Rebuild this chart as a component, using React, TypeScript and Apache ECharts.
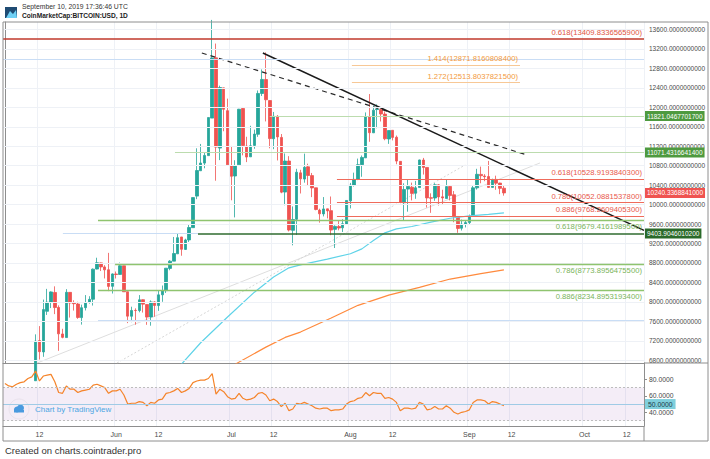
import React, { useEffect, useRef } from "react";
import * as echarts from "echarts";

// ---------- categories ----------
const FIRST_DAY = Date.UTC(2019, 4, 3); // May 3 2019
const DAY_COUNT = 167; // through Oct 16 2019
const MONTHS = ["Jan", "Feb", "Mar", "Apr", "May", "Jun", "Jul", "Aug", "Sep", "Oct", "Nov", "Dec"];
const dates: string[] = [];
for (let i = 0; i < DAY_COUNT; i++) {
  dates.push(new Date(FIRST_DAY + i * 86400000).toISOString().slice(0, 10));
}

// ---------- candles (May 10 .. Sep 10) ----------
const CANDLE_START = 7; // index of May 10
const opens = [
  6187, 6379, 7204, 6971, 7807, 7989, 8194, 7886, 7341, 7267, 8196, 7977, 7957, 7677, 7882, 7991, 8055, 8675, 8802, 8719, 8661, 8320,
  8573, 8565, 8742, 8210, 7705, 7826, 7822, 8045, 7946, 7692, 8000, 7925, 8146, 8232, 8689, 8838, 8988, 9335, 9079, 9274, 9526, 10175, 10696, 10853, 11007, 11778, 13017, 11162, 12400, 11931,
  10796, 10588, 10818, 11976, 11203, 10982, 11217, 11446, 12284, 12571, 12139, 11354, 11814, 11381, 10258, 10896, 9471, 9698, 10653, 10525, 10777, 10596, 10346, 9887, 9809, 9913, 9876, 9491, 9548, 9523, 9604,
  10077, 10403, 10519, 10822, 10961, 11811, 11476, 11954, 11953, 11861, 11349, 11528, 11385, 10889, 10038, 10319, 10358, 10233, 10350, 10917, 10764, 10142, 10136, 10407, 10160, 10126, 10372, 10203, 9756, 9515, 9597,
  9630, 9758, 10345, 10621, 10588, 10577, 10354, 10518, 10443, 10337,
];
const highs = [
  6434, 7333, 7503, 8047, 8268, 8216, 8320, 7929, 7447, 8262, 8196, 8033, 8003, 7943, 8140, 8117, 8687, 8908, 8807, 8755, 9008, 8586,
  8625, 8809, 8743, 8210, 7901, 7868, 8140, 8052, 7951, 8031, 8014, 8244, 8337, 8694, 8858, 9335, 9416, 9336, 9299, 9594, 10145, 11158, 11247, 11066, 11790, 13797, 13311, 12446, 12400, 12179,
  11206, 10912, 11968, 12007, 11395, 11620, 11541, 12346, 12779, 13129, 12144, 11905, 11841, 11451, 11052, 10996, 9963, 10736, 10716, 11048, 10841, 10651, 10346, 9916, 10155, 9916, 10167, 9575, 9681, 9701, 10085,
  10446, 10657, 10946, 11010, 11895, 12273, 12035, 12061, 11970, 11915, 11523, 11528, 11420, 10889, 10437, 10524, 10452, 10487, 10925, 10960, 10764, 10232, 10441, 10418, 10305, 10512, 10382, 10279, 9756, 9692, 9673,
  9796, 10396, 10736, 10781, 10627, 10898, 10532, 10595, 10450, 10385,
];
const lows = [
  6178, 6375, 6815, 6871, 7732, 7873, 7749, 6994, 7252, 7267, 7678, 7822, 7652, 7533, 7824, 7965, 7925, 8668, 8634, 8482, 8221, 8172,
  8481, 8561, 8204, 7564, 7583, 7531, 7786, 7781, 7529, 7511, 7695, 7816, 8002, 8184, 8651, 8838, 8988, 8949, 9070, 9232, 9526, 10112, 10696, 10747, 11007, 11778, 10491, 10915, 11508, 10799,
  10089, 9737, 10818, 11013, 10874, 10982, 11148, 11393, 12233, 11710, 11158, 11140, 10908, 10234, 9987, 9448, 9163, 9376, 10229, 10451, 10383, 10154, 9883, 9629, 9757, 9717, 9372, 9108, 9472, 9437, 9599,
  9922, 10372, 10504, 10572, 10960, 11291, 11476, 11570, 11709, 11323, 11248, 11320, 10830, 10029, 9675, 9855, 10086, 10119, 10350, 10618, 9940, 9831, 10078, 9982, 10008, 10126, 10087, 9638, 9421, 9468, 9531,
  9582, 9745, 10309, 10439, 10481, 10415, 10353, 10304, 10215, 10184,
];
const closes = [
  6371, 7194, 6977, 7842, 7994, 8205, 7884, 7343, 7271, 8197, 7978, 7963, 7680, 7881, 7987, 8052, 8673, 8805, 8719, 8659, 8319, 8575,
  8564, 8742, 8208, 7707, 7824, 7822, 8043, 7954, 7688, 8000, 7927, 8145, 8230, 8693, 8838, 8995, 9320, 9082, 9274, 9529, 10144, 10701, 10855, 11011, 11790, 13016, 11182, 12407, 11959, 10817,
  10583, 10801, 11961, 11215, 10978, 11209, 11450, 12285, 12573, 12156, 11358, 11815, 11392, 10256, 10895, 9477, 9694, 10666, 10530, 10767, 10599, 10343, 9900, 9811, 9911, 9871, 9477, 9552, 9519, 9607, 10085,
  10399, 10519, 10821, 10970, 11805, 11478, 11941, 11966, 11862, 11354, 11523, 11382, 10895, 10052, 10311, 10374, 10231, 10345, 10918, 10764, 10138, 10131, 10407, 10159, 10138, 10370, 10185, 9754, 9510, 9598, 9630,
  9757, 10346, 10623, 10594, 10575, 10353, 10517, 10441, 10334, 10240.3368841,
];

// ---------- RSI (May 3 .. Sep 10) ----------
const rsiValues = [
  75, 72, 71, 74, 76, 77, 81, 83, 90, 78,
  84, 85, 86, 77, 64, 63, 72, 68, 68, 64,
  66, 67, 68, 73, 74, 72, 70, 63, 66, 66,
  68, 61, 50, 51, 51, 53, 52, 48, 52, 51,
  55, 56, 63, 64, 66, 69, 64, 66, 69, 76,
  78, 79, 79, 81, 87, 62, 68, 65, 59, 56,
  57, 63, 57, 55, 56, 58, 63, 64, 61, 54,
  56, 53, 47, 51, 42, 44, 51, 50, 52, 50,
  48, 45, 44, 45, 45, 42, 43, 43, 44, 50,
  53, 54, 57, 58, 64, 60, 64, 63, 63, 57,
  58, 56, 52, 42, 45, 45, 44, 45, 52, 50,
  43, 44, 47, 44, 44, 48, 45, 40, 38, 40,
  41, 43, 52, 55, 55, 54, 50, 53, 52, 50,
  48,
];

// ---------- moving averages [dayIndex, value] ----------
const maFastPoints = [
  [46, 6720], [51, 7160], [58, 7690], [65, 8200], [70, 8510], [74, 8700], [77, 8760], [84, 8880], [90, 8990],
  [93, 9090], [96, 9260], [99, 9420], [102, 9500], [106, 9550], [111, 9640], [116, 9720], [121, 9770], [126, 9800], [130, 9830],
];
const maSlowPoints = [
  [60, 6720], [68, 7070], [73, 7270], [77, 7380], [85, 7670], [92, 7930], [100, 8140], [108, 8300], [116, 8470], [124, 8580], [130, 8660],
];

// ---------- trend lines [dayIndex, value] ----------
const trendSolid = [[67.2, 13117], [166.5, 9470]];
const trendDashed = [[51.3, 13117], [136, 11020]];
const faintSolid = [[8.4, 6744], [139.4, 10856]];
const faintDotted = [[29.2, 6744], [119.9, 10815]];

// ---------- horizontal levels ----------
const topFibValue = 13409.83365659;
const topFibLabel = "0.618(13409.8336565900)";
const extFibValues = [12871.8160808400, 12513.8037821500];
const extFibLabels = ["1.414(12871.8160808400)", "1.272(12513.8037821500)"];
const extFibRange = [90.4, 134.2];
const redFibValues = [10528.9193840300, 10052.0881537800, 9768.2609405300];
const redFibLabels = ["0.618(10528.9193840300)", "0.786(10052.0881537800)", "0.886(9768.2609405300)"];
const redFibStart = 86.5;
const greenFibValues = [9679.4161989500, 8773.8956475500, 8234.8953193400];
const greenFibLabels = ["0.618(9679.4161989500)", "0.786(8773.8956475500)", "0.886(8234.8953193400)"];
const greenFibStarts = [24.25, 28.7, 24.25];
const resistanceValues = [11821.0467701700, 11071.4316641400];
const resistanceLabels = ["11821.0467701700", "11071.4316641400"];
const resistanceStarts = [69, 44.3];
const supportValue = 9403.9046010200;
const supportLabel = "9403.9046010200";
const supportStart = 50.3;
const lastPriceLabel = "10240.3368841000";
const lightLevelValues = [12987, 9420, 7630];
const lightLevelStarts = [-0.5, 15.1, 24.25];
const lightLevelEnds = [166.5, 50.3, 166.5];

// ---------- ticks ----------
const priceTicks = [6800, 7200, 7600, 8000, 8400, 8800, 9200, 9600, 10000, 10400, 10800, 11200, 11600, 12000, 12400, 12800, 13200, 13600];
const rsiTicks = [40, 60, 80];

const FONT = "'Liberation Sans', Arial, sans-serif";
const X_BEGIN = -0.5;
const X_END = DAY_COUNT - 0.5;
const GRID_COLOR = "#eef1f6";

const isLabelDay = (i: number) => {
  const d = dates[i].slice(8, 10);
  return d === "01" || d === "12";
};
const dateLabel = (v: string) => {
  const day = +v.slice(8, 10);
  if (day === 1) return MONTHS[+v.slice(5, 7) - 1];
  if (day === 12) return "12";
  return "";
};

function seg(x0: number, x1: number, v: number, lineStyle: any, label?: any) {
  return [
    { coord: [x0, v], lineStyle, label: label || { show: false } },
    { coord: [x1, v] },
  ];
}

function buildOption() {
  const candleData = opens.map((o, k) => [CANDLE_START + k, o, closes[k], lows[k], highs[k]]);

  const textLabel = (text: string, color: string, pos: string) => ({
    show: true,
    position: pos,
    formatter: text,
    color,
    fontSize: 7.7,
    fontFamily: FONT,
    distance: 2,
  });
  const boxLabel = (text: string, bg: string, fg: string) => ({
    show: true,
    position: "end",
    formatter: text,
    color: fg,
    backgroundColor: bg,
    padding: [2, 2, 1, 2],
    fontSize: 6.5,
    fontFamily: FONT,
    distance: 1,
  });

  const levelData: any[] = [];
  lightLevelValues.forEach((v, k) =>
    levelData.push(seg(lightLevelStarts[k], lightLevelEnds[k], v, { color: "#c9ddf5", width: 1.2, type: "solid" }))
  );
  levelData.push(
    seg(X_BEGIN, X_END, topFibValue, { color: "#c0392b", width: 1.5, type: "solid" }, textLabel(topFibLabel, "#e0533e", "insideEndTop"))
  );
  extFibValues.forEach((v, k) =>
    levelData.push(
      seg(extFibRange[0], extFibRange[1], v, { color: "#f7c896", width: 1, type: "solid" }, textLabel(extFibLabels[k], "#f39a3d", "insideEndTop"))
    )
  );
  resistanceValues.forEach((v, k) =>
    levelData.push(
      seg(resistanceStarts[k], X_END, v, { color: "#bcdcae", width: 1, type: "solid" }, boxLabel(resistanceLabels[k], "#4e9a3f", "#ffffff"))
    )
  );
  redFibValues.forEach((v, k) =>
    levelData.push(
      seg(redFibStart, X_END, v, { color: "#ef6b5b", width: 1.2, type: "solid" }, textLabel(redFibLabels[k], "#e8584a", "insideEndTop"))
    )
  );
  greenFibValues.forEach((v, k) =>
    levelData.push(
      seg(greenFibStarts[k], X_END, v, { color: "#8fc46f", width: 1.3, type: "solid" }, textLabel(greenFibLabels[k], "#7ab45a", "insideEndBottom"))
    )
  );
  levelData.push(
    seg(supportStart, X_END, supportValue, { color: "#2f6b2f", width: 1.6, type: "solid" }, boxLabel(supportLabel, "#2a6a2a", "#ffffff"))
  );
  levelData.push(
    seg(X_END - 1, X_END, closes[closes.length - 1], { color: "rgba(0,0,0,0)", width: 0 }, boxLabel(lastPriceLabel, "#ef5350", "#ffffff"))
  );

  const plainLine = (data: any, color: string, width: number, type: any = "solid", z = 3) => ({
    type: "line",
    xAxisIndex: 2,
    yAxisIndex: 0,
    data,
    symbol: "none",
    silent: true,
    z,
    lineStyle: { color, width, type },
  });

  return {
    animation: false,
    backgroundColor: "#ffffff",
    textStyle: { fontFamily: FONT },
    grid: [
      { left: 3, right: 66, top: 22, bottom: 96 },
      { left: 3, right: 66, top: 363, bottom: 33 },
    ],
    xAxis: [
      {
        type: "category",
        gridIndex: 0,
        data: dates,
        boundaryGap: true,
        axisLine: { show: true, lineStyle: { color: "#8e8e8e", width: 1 } },
        axisTick: { show: false },
        axisLabel: { show: false },
        splitLine: { show: true, interval: (i: number) => isLabelDay(i), lineStyle: { color: GRID_COLOR, width: 1 } },
      },
      {
        type: "category",
        gridIndex: 1,
        data: dates,
        boundaryGap: true,
        axisLine: { show: true, lineStyle: { color: "#8e8e8e", width: 1 } },
        axisTick: { show: false },
        axisLabel: {
          show: true,
          interval: (i: number) => isLabelDay(i),
          formatter: dateLabel,
          color: "#4a4a4a",
          fontSize: 7,
          margin: 5,
        },
        splitLine: { show: true, interval: (i: number) => isLabelDay(i), lineStyle: { color: GRID_COLOR, width: 1 } },
      },
      { type: "value", gridIndex: 0, min: X_BEGIN, max: X_END, show: false },
    ],
    yAxis: [
      {
        type: "value",
        gridIndex: 0,
        position: "right",
        min: 6744,
        max: 13754,
        axisLine: { show: true, lineStyle: { color: "#8e8e8e", width: 1 } },
        axisTick: { show: true, length: 3, customValues: priceTicks, lineStyle: { color: "#8e8e8e" } },
        axisLabel: {
          show: true,
          customValues: priceTicks,
          formatter: (v: number) => v.toFixed(10),
          color: "#4a4a4a",
          fontSize: 6.5,
          margin: 5,
        },
        splitLine: { show: false },
      },
      {
        type: "value",
        gridIndex: 1,
        position: "right",
        min: 23.4,
        max: 99.8,
        axisLine: { show: true, lineStyle: { color: "#8e8e8e", width: 1 } },
        axisTick: { show: true, length: 3, customValues: rsiTicks, lineStyle: { color: "#8e8e8e" } },
        axisLabel: {
          show: true,
          customValues: rsiTicks,
          formatter: (v: number) => v.toFixed(4),
          color: "#4a4a4a",
          fontSize: 6.8,
          margin: 5,
        },
        splitLine: { show: false },
      },
    ],
    graphic: [
      {
        type: "rect",
        shape: { x: 3, y: 22, width: 705, height: 419 },
        style: { fill: "none", stroke: "#8e8e8e", lineWidth: 1 },
        silent: true,
        z: 100,
      },
      { type: "line", shape: { x1: 644, y1: 426, x2: 644, y2: 441 }, style: { stroke: "#8e8e8e", lineWidth: 1 }, z: 100 },
      { type: "line", shape: { x1: 644, y1: 363, x2: 708, y2: 363 }, style: { stroke: "#8e8e8e", lineWidth: 1 }, z: 100 },
      {
        type: "group",
        x: 5,
        y: 7,
        children: [
          { type: "rect", shape: { x: 0, y: 0, width: 12, height: 11 }, style: { fill: "#1f4b73" } },
          { type: "polygon", shape: { points: [[1, 11], [5, 4], [8, 7], [11, 3], [12, 11]] }, style: { fill: "#6fd0f5" } },
        ],
      },
      {
        type: "text",
        x: 22,
        y: 3,
        style: { text: "September 10, 2019 17:36:46 UTC", fill: "#333333", fontSize: 6.8, fontFamily: FONT },
      },
      {
        type: "text",
        x: 22,
        y: 12,
        style: { text: "CoinMarketCap:BITCOIN:USD, 1D", fill: "#222222", fontSize: 6.6, fontWeight: "bold", fontFamily: FONT },
      },
      {
        type: "group",
        x: 19,
        y: 409,
        z: 50,
        children: [
          { type: "circle", shape: { cx: 0, cy: 0, r: 10 }, style: { fill: "#ffffff", stroke: "#e6e6e6", lineWidth: 0.5 } },
          { type: "circle", shape: { cx: -2, cy: 0.5, r: 3 }, style: { fill: "#3fa2e4" } },
          { type: "circle", shape: { cx: 1.5, cy: -1, r: 3.5 }, style: { fill: "#3fa2e4" } },
          { type: "rect", shape: { x: -5, y: 1, width: 10, height: 2.5 }, style: { fill: "#3fa2e4" } },
        ],
      },
      {
        type: "text",
        x: 35,
        y: 405,
        z: 50,
        style: { text: "Chart by TradingView", fill: "#4ca6e3", fontSize: 8, fontFamily: FONT },
      },
      {
        type: "text",
        x: 5,
        y: 445,
        style: { text: "Created on charts.cointrader.pro", fill: "#333333", fontSize: 9.5, fontFamily: FONT },
      },
    ],
    series: [
      {
        type: "line",
        xAxisIndex: 2,
        yAxisIndex: 0,
        data: [],
        z: 0,
        silent: true,
        markLine: {
          silent: true,
          symbol: ["none", "none"],
          label: { show: false },
          lineStyle: { color: GRID_COLOR, width: 1, type: "solid" },
          data: priceTicks.map((v) => ({ yAxis: v })),
        },
      },
      plainLine(faintSolid, "#dedede", 1, "solid", 1),
      plainLine(faintDotted, "#d6d6d6", 1, [2, 2], 1),
      {
        type: "candlestick",
        xAxisIndex: 0,
        yAxisIndex: 0,
        data: candleData,
        encode: { x: 0, y: [1, 2, 3, 4] },
        barWidth: 3,
        z: 2,
        silent: true,
        itemStyle: {
          color: "#26a69a",
          color0: "#ef5350",
          borderColor: "#26a69a",
          borderColor0: "#ef5350",
          borderWidth: 0.8,
        },
      },
      plainLine(maFastPoints, "#5fd3e8", 1.2),
      plainLine(maSlowPoints, "#ff8a3d", 1.2),
      {
        type: "line",
        xAxisIndex: 2,
        yAxisIndex: 0,
        data: [],
        z: 3,
        silent: true,
        markLine: {
          silent: true,
          symbol: ["none", "none"],
          data: levelData,
        },
      },
      plainLine(trendDashed, "#2a2a2a", 1.2, [5, 4], 4),
      plainLine(trendSolid, "#1a1a1a", 1.5, "solid", 4),
      {
        type: "line",
        xAxisIndex: 1,
        yAxisIndex: 1,
        data: rsiValues,
        symbol: "none",
        silent: true,
        z: 3,
        lineStyle: { color: "#f5842a", width: 1.2 },
        markArea: {
          silent: true,
          itemStyle: { color: "rgba(155, 89, 182, 0.11)" },
          data: [[{ yAxis: 30 }, { yAxis: 70 }]],
        },
        markLine: {
          silent: true,
          symbol: ["none", "none"],
          data: [
            { yAxis: 70, lineStyle: { color: "#bdbdbd", width: 1, type: [2, 2] }, label: { show: false } },
            { yAxis: 30, lineStyle: { color: "#bdbdbd", width: 1, type: [2, 2] }, label: { show: false } },
            {
              yAxis: 50,
              lineStyle: { color: "#9fcbe6", width: 1, type: "solid" },
              label: {
                show: true,
                position: "end",
                formatter: "50.0000",
                color: "#1d3b47",
                backgroundColor: "#7fcfdc",
                padding: [2, 3, 1, 3],
                fontSize: 6.8,
                fontFamily: FONT,
                distance: 1,
              },
            },
          ],
        },
      },
    ],
  };
}

export default function App() {
  const ref = useRef<HTMLDivElement>(null);
  useEffect(() => {
    if (!ref.current) return;
    const chart = echarts.init(ref.current, undefined, { renderer: "svg" });
    chart.setOption(buildOption() as any);
    return () => chart.dispose();
  }, []);
  return (
    <div
      ref={ref}
      style={{ position: "absolute", left: 0, top: 0, width: 710, height: 459, background: "#ffffff" }}
    />
  );
}
